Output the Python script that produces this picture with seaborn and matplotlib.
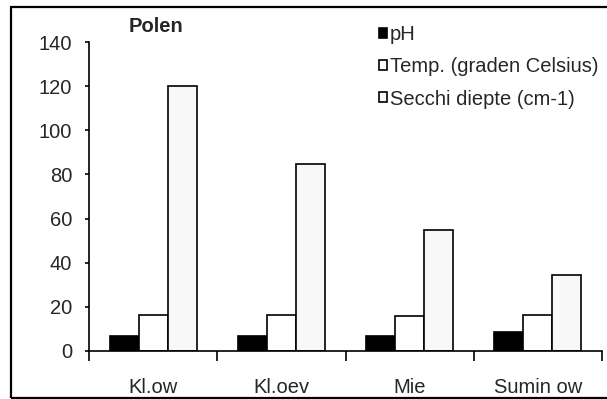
import matplotlib
matplotlib.use("Agg")
import matplotlib.pyplot as plt
import seaborn as sns
import pandas as pd
from matplotlib.patches import Rectangle, Patch

sites = ["Kl.ow", "Kl.oev", "Mie", "Sumin ow"]
series = ["pH", "Temp. (graden Celsius)", "Secchi diepte (cm-1)"]
ph = [6.8, 6.8, 6.8, 8.4]
temp = [16.4, 16.4, 15.7, 16.4]
secchi = [120, 84.7, 54.8, 34.5]
colors = ["#000000", "#ffffff", "#f8f8f8"]

df = pd.DataFrame({
    "site": sites * 3,
    "variable": [series[0]] * 4 + [series[1]] * 4 + [series[2]] * 4,
    "value": ph + temp + secchi,
})

sns.set_style("white")
plt.rcParams["font.family"] = ["Liberation Sans", "DejaVu Sans"]
FS = 14.5

W, H = 607, 399
fig = plt.figure(figsize=(W / 100, H / 100), dpi=100)
ax = fig.add_axes([89 / W, 1 - 350.7 / H, (602 - 89) / W, (350.7 - 42.3) / H])

sns.barplot(data=df, x="site", y="value", hue="variable", order=sites,
            hue_order=series, palette=colors, width=0.68, gap=0,
            edgecolor="black", linewidth=1.2, ax=ax, legend=False)

ax.set_ylim(0, 140)
ax.set_xlim(-0.5, 3.5)
ax.set_yticks(range(0, 141, 20))
ax.set_xlabel("")
ax.set_ylabel("")

for side in ["top", "right"]:
    ax.spines[side].set_visible(False)
for side in ["left", "bottom"]:
    ax.spines[side].set_color("black")
    ax.spines[side].set_linewidth(1.2)

# category labels centred, ticks on the category boundaries
ax.set_xticks([0, 1, 2, 3])
ax.set_xticklabels(sites)
ax.tick_params(axis="x", which="major", length=0, pad=20, labelsize=FS)
ax.set_xticks([-0.5, 0.5, 1.5, 2.5, 3.5], minor=True)
ax.tick_params(axis="x", which="minor", length=7, width=1.2, color="black",
               direction="out", bottom=True)
ax.tick_params(axis="y", length=3.2, width=1.2, color="black",
               direction="out", left=True, labelsize=FS, pad=9)

fig.text(155.5 / W, 1 - 27 / H, "Polen", fontsize=FS, fontweight="bold",
         ha="center", va="center")

handles = [Patch(facecolor=c, edgecolor="black", linewidth=1.2) for c in colors]
fig.legend(handles, series, loc="upper left",
           bbox_to_anchor=(379 / W, 1 - 25 / H), frameon=False,
           fontsize=FS, handlelength=0.4, handleheight=0.4,
           handletextpad=0.15, labelspacing=0.66, borderaxespad=0,
           borderpad=0)

# outer chart frame
fig.patches.append(Rectangle((11 / W, 1 - 397.7 / H), (W + 5 - 11) / W,
                             (397.7 - 7.3) / H, transform=fig.transFigure,
                             fill=False, edgecolor="black", linewidth=1.6))

fig.savefig("out.png", dpi=100)
